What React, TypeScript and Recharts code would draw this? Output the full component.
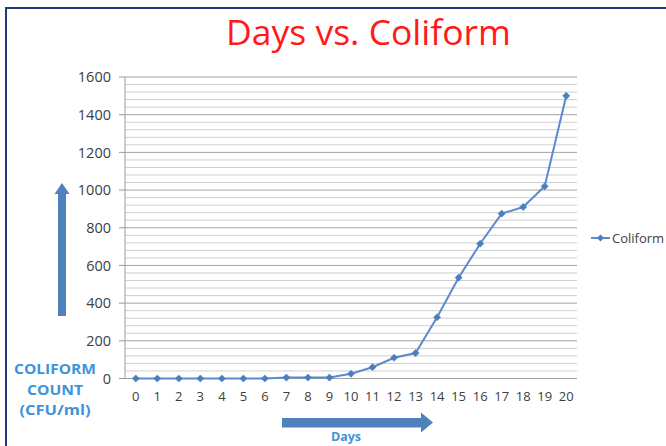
import React from 'react';
import { LineChart, Line, XAxis, YAxis, CartesianGrid, ReferenceLine } from 'recharts';

const days = [0, 1, 2, 3, 4, 5, 6, 7, 8, 9, 10, 11, 12, 13, 14, 15, 16, 17, 18, 19, 20];
const coliform = [0, 0, 0, 0, 0, 0, 0, 5, 5, 5, 25, 60, 110, 135, 325, 535, 715, 875, 910, 1020, 1500];
const yTicks = [0, 200, 400, 600, 800, 1000, 1200, 1400, 1600];
const minorTicks = [
  40, 80, 120, 160, 240, 280, 320, 360, 440, 480, 520, 560, 640, 680, 720, 760,
  840, 880, 920, 960, 1040, 1080, 1120, 1160, 1240, 1280, 1320, 1360, 1440, 1480, 1520, 1560,
];
// tick marks sit between the categories, like Excel
const edgeTicks = [...days.map((d) => d - 0.5), 20.5];
const seriesName = 'Coliform';

const data = days.map((d, i) => ({ day: d, [seriesName]: coliform[i] }));

const LINE_COLOR = '#5b8bcc';
const MARK_COLOR = '#4a7ebf';
const LABEL_BLUE = '#3f93d8';
const FONT = '"Open Sans", Calibri, sans-serif';

const Diamond = (props: any) => {
  const { cx, cy } = props;
  if (cx == null || cy == null) return null;
  const r = 3.6;
  return (
    <polygon
      points={`${cx},${cy - r} ${cx + r},${cy} ${cx},${cy + r} ${cx - r},${cy}`}
      fill={MARK_COLOR}
      stroke={MARK_COLOR}
      strokeWidth={0.5}
    />
  );
};

export default function App() {
  return (
    <div
      style={{
        position: 'absolute',
        left: 0,
        top: 0,
        width: 666,
        height: 446,
        overflow: 'hidden',
        background: '#fff',
        fontFamily: FONT,
      }}
    >
      <div
        style={{
          position: 'absolute',
          left: 5,
          top: 7,
          width: 720,
          height: 520,
          border: '2px solid #1f3a78',
          boxSizing: 'border-box',
        }}
      />
      <div style={{ position: 'absolute', left: 0, top: 0 }}>
        <LineChart
          width={666}
          height={446}
          data={data}
          margin={{ top: 77, right: 89, left: 65, bottom: 37.5 }}
        >
          <CartesianGrid vertical={false} stroke="#a3a3a3" strokeWidth={1} />
          {minorTicks.map((v) => (
            <ReferenceLine key={v} y={v} stroke="#cfcfcf" strokeWidth={1} />
          ))}
          <XAxis
            xAxisId="edge"
            dataKey="day"
            type="number"
            domain={[-0.5, 20.5]}
            ticks={edgeTicks}
            tickFormatter={() => ''}
            height={0}
            tickSize={5}
            stroke="#9a9a9a"
            interval={0}
            allowDataOverflow
          />
          <XAxis
            xAxisId="main"
            dataKey="day"
            type="number"
            domain={[-0.5, 20.5]}
            ticks={days}
            interval={0}
            height={30}
            axisLine={false}
            tickLine={false}
            tickSize={0}
            tickMargin={13}
            tick={{ fontSize: 13, fill: '#404040', fontFamily: FONT }}
            allowDataOverflow
          />
          <YAxis
            domain={[0, 1600]}
            ticks={yTicks}
            width={60}
            interval={0}
            stroke="#9a9a9a"
            tickSize={6}
            tickMargin={8}
            tick={{ fontSize: 14.5, fill: '#404040', fontFamily: FONT }}
          />
          <Line
            xAxisId="main"
            type="linear"
            dataKey={seriesName}
            stroke={LINE_COLOR}
            strokeWidth={2}
            dot={<Diamond />}
            activeDot={false}
            isAnimationActive={false}
          />
        </LineChart>
      </div>
      <svg
        width={666}
        height={446}
        style={{ position: 'absolute', left: 0, top: 0, pointerEvents: 'none' }}
      >
        <text
          x={368.5}
          y={45}
          textAnchor="middle"
          fontSize={35.5}
          fill="#ff1a1a"
          fontFamily={FONT}
        >
          Days vs. Coliform
        </text>
        {/* legend */}
        <line x1={591} y1={238} x2={610} y2={238} stroke={LINE_COLOR} strokeWidth={2} />
        <polygon points="600.5,234.5 604,238 600.5,241.5 597,238" fill={MARK_COLOR} />
        <text x={612} y={242.5} fontSize={13} fill="#404040" fontFamily={FONT}>
          {seriesName}
        </text>
        {/* vertical arrow */}
        <polygon points="58,316 66,316 66,194 69.5,194 62,183 54.5,194 58,194" fill="#4f81bd" />
        {/* horizontal arrow */}
        <polygon points="282,418 421,418 421,412.5 433,422.5 421,432.5 421,427.5 282,427.5" fill="#4f81bd" />
        <g fontFamily={FONT} fontWeight={700} fill={LABEL_BLUE} textAnchor="middle" fontSize={13.5}>
          <text x={55} y={374} textLength={82} lengthAdjust="spacingAndGlyphs">COLIFORM</text>
          <text x={55} y={395} textLength={56} lengthAdjust="spacingAndGlyphs">COUNT</text>
          <text x={55} y={415} textLength={71} lengthAdjust="spacingAndGlyphs">(CFU/ml)</text>
          <text x={346} y={441} fontSize={12.5}>Days</text>
        </g>
      </svg>
    </div>
  );
}
